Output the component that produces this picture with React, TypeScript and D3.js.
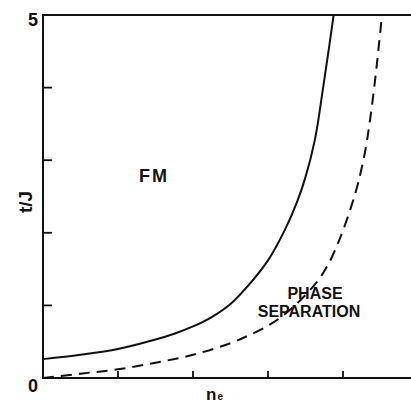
import React, { useEffect, useRef } from 'react';
import * as d3 from 'd3';

// boundary curves (n_e, t/J)
const solidN = [0, 0.1, 0.2, 0.3, 0.35, 0.4, 0.45, 0.5, 0.55, 0.6, 0.645, 0.677, 0.699, 0.725, 0.747, 0.763, 0.775];
const solidT = [0.26, 0.32, 0.4, 0.53, 0.61, 0.71, 0.84, 1.02, 1.29, 1.62, 2.04, 2.42, 2.75, 3.28, 4.0, 4.56, 5];

const dashN = [0, 0.1, 0.2, 0.3, 0.4, 0.5, 0.55, 0.6, 0.64, 0.68, 0.73, 0.76, 0.79, 0.82, 0.84, 0.859, 0.872, 0.885, 0.895, 0.904];
const dashT = [0, 0.06, 0.12, 0.21, 0.32, 0.48, 0.59, 0.72, 0.86, 1.04, 1.32, 1.56, 1.9, 2.33, 2.68, 3.12, 3.55, 4.08, 4.55, 5];

const xTicks = [0.2, 0.4, 0.6, 0.8];
const yTicks = [1, 2, 3, 4];

const W = 411, H = 407;

function Chart() {
    const ref = useRef<SVGSVGElement>(null);

    useEffect(() => {
        const svg = d3.select(ref.current);
        svg.selectAll('*').remove();

        const x = d3.scaleLinear().domain([0, 1]).range([43, 418]);
        const y = d3.scaleLinear().domain([0, 5]).range([378, 15]);
        const ink = '#111';
        const font = '"Liberation Sans", Arial, sans-serif';

        // frame: left, bottom, top
        svg.append('path')
            .attr('d', `M${x(1)},${y(5)}H${x(0)}V${y(0)}H${x(1)}`)
            .attr('fill', 'none')
            .attr('stroke', ink)
            .attr('stroke-width', 2);

        // inward ticks
        svg.selectAll('.xt').data(xTicks).enter().append('line')
            .attr('x1', d => x(d)).attr('x2', d => x(d))
            .attr('y1', y(0)).attr('y2', y(0) - 7)
            .attr('stroke', ink).attr('stroke-width', 1.8);
        svg.selectAll('.yt').data(yTicks).enter().append('line')
            .attr('x1', x(0)).attr('x2', x(0) + 9)
            .attr('y1', d => y(d)).attr('y2', d => y(d))
            .attr('stroke', ink).attr('stroke-width', 1.8);

        const line = d3.line().curve(d3.curveCatmullRom.alpha(0.5));

        const solid = solidN.map((n, i) => [x(n), y(solidT[i])] as [number, number]);
        const dashed = dashN.map((n, i) => [x(n), y(dashT[i])] as [number, number]);

        svg.append('path')
            .attr('d', line(solid))
            .attr('fill', 'none')
            .attr('stroke', ink)
            .attr('stroke-width', 2);

        svg.append('path')
            .attr('d', line(dashed))
            .attr('fill', 'none')
            .attr('stroke', ink)
            .attr('stroke-width', 2)
            .attr('stroke-dasharray', '11,7');

        // labels
        const txt = (s: string, px: number, py: number, size: number, anchor = 'middle') =>
            svg.append('text')
                .attr('x', px).attr('y', py)
                .attr('font-family', font)
                .attr('font-weight', 'bold')
                .attr('font-size', size)
                .attr('text-anchor', anchor)
                .attr('fill', ink)
                .text(s);

        txt('5', 33, 26, 18);
        txt('0', 33, 392, 18);

        svg.append('text')
            .attr('transform', 'translate(32,202) rotate(-90)')
            .attr('font-family', font)
            .attr('font-weight', 'bold')
            .attr('font-size', 19)
            .attr('text-anchor', 'middle')
            .attr('fill', ink)
            .text('t/J');

        const ne = svg.append('text')
            .attr('x', 206).attr('y', 400)
            .attr('font-family', font)
            .attr('font-weight', 'bold')
            .attr('font-size', 17)
            .attr('fill', ink);
        ne.append('tspan').text('n');
        ne.append('tspan').attr('font-size', 10).attr('dx', 1).text('e');

        txt('FM', 154, 182, 18).attr('letter-spacing', 2);
        txt('PHASE', 315, 299, 16);
        txt('SEPARATION', 309, 317, 16);
    }, []);

    return <svg ref={ref} width={W} height={H} style={{ position: 'absolute', left: 0, top: 0, background: '#fff' }} />;
}

export default function App() {
    return <Chart />;
}
